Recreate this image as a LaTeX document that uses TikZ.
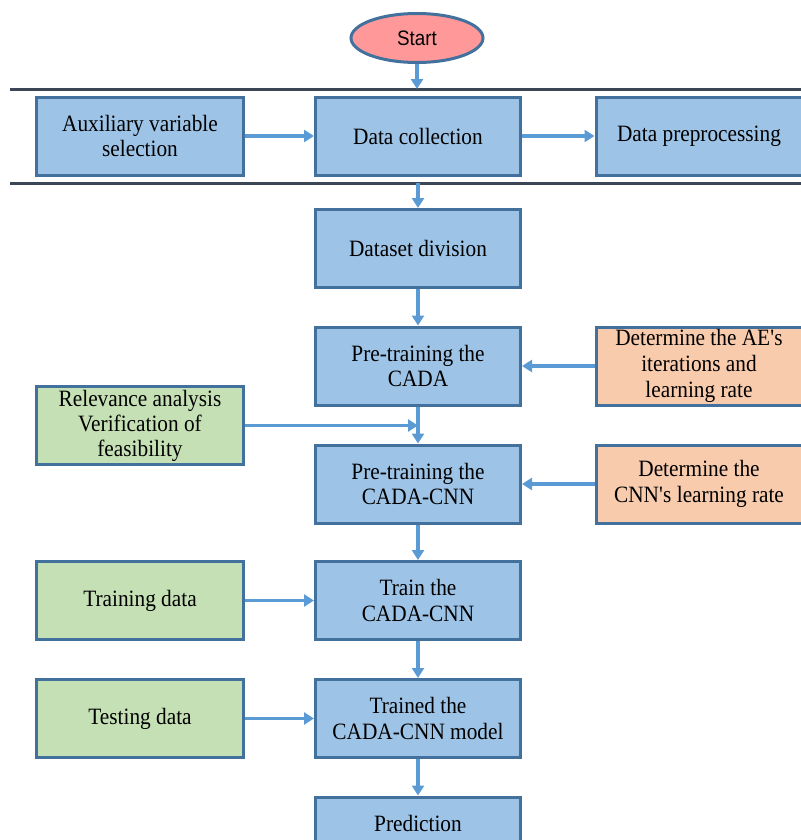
\documentclass[tikz,border=0pt]{standalone}
\usepackage{fontspec}
\setmainfont{Liberation Serif}[FakeStretch=0.91]
\setsansfont{Liberation Sans}[FakeStretch=0.9]
\usetikzlibrary{arrows.meta,shapes.geometric}
\definecolor{boxc}{HTML}{9DC3E6}
\definecolor{edgec}{HTML}{41719C}
\definecolor{greenc}{HTML}{C5E0B4}
\definecolor{orangec}{HTML}{F8CBAD}
\definecolor{startc}{HTML}{FF9999}
\definecolor{arc}{HTML}{5B9BD5}
\definecolor{linec}{HTML}{3B4656}
\tikzset{
  ar/.style={-{Triangle[length=10bp,width=12bp]},line width=3.2bp,arc},
  box/.style={draw=edgec,line width=3bp,fill=boxc,align=center,minimum width=205bp,minimum height=78bp,inner sep=2pt,font=\fontsize{23.5}{26}\selectfont},
  inbox/.style={box,fill=greenc,minimum width=206bp},
  parbox/.style={box,fill=orangec,minimum width=206bp},
  startnode/.style={ellipse,draw=edgec,line width=3bp,fill=startc,minimum width=132bp,minimum height=49bp,inner sep=0pt,font=\sffamily\fontsize{21}{24}\selectfont},
  sep/.style={line width=3bp,linec}
}

\begin{document}
\begin{tikzpicture}[x=1bp,y=-1bp]
\useasboundingbox (0,0) rectangle (801,840);
\coordinate (sepa) at (10,89);
\coordinate (sepaend) at (801,89);
\coordinate (sepb) at (10,183);
\coordinate (sepbend) at (801,183);
\draw[sep] (sepa) -- (sepaend);
\draw[sep] (sepb) -- (sepbend);

\node[startnode] (start) at (417,38) {Start};
\node[box,minimum width=206bp] (aux) at (140,136) {Auxiliary variable\\selection};
\node[box] (dc) at (418,136) {Data collection};
\node[box,minimum width=206bp] (dp) at (699,136) {Data preprocessing};
\node[box] (div) at (418,248.5) {Dataset division};
\node[box] (cada) at (418,366) {Pre-training the\\CADA};
\node[parbox] (ae) at (699,366) {Determine the AE\textquotesingle s\\iterations and\\learning rate};
\node[inbox,font=\fontsize{23.5}{25}\selectfont] (rel) at (140,425.5) {Relevance analysis\\Verification of\\feasibility};
\node[box] (cnn) at (418,484) {Pre-training the\\CADA-CNN};
\node[parbox] (cnnlr) at (699,484) {Determine the\\CNN\textquotesingle s learning rate};
\node[box] (train) at (418,600.5) {Train the\\CADA-CNN};
\node[inbox] (trdata) at (140,600.5) {Training data};
\node[box] (model) at (418,718.5) {Trained the\\CADA-CNN model};
\node[inbox] (tedata) at (140,718.5) {Testing data};
\node[box,minimum height=52bp] (pred) at (418,823) {Prediction};

\draw[ar] (start.south) -- (start.south |- sepa);
\draw[ar] (aux) -- (dc);
\draw[ar] (dc) -- (dp);
\draw[ar] (dc |- sepb) -- (div);
\draw[ar] (div) -- (cada);
\draw[ar] (ae) -- (cada);
\draw[ar] (cada) -- (cnn);
\draw[ar] (rel) -- (rel -| cada);
\draw[ar] (cnnlr) -- (cnn);
\draw[ar] (cnn) -- (train);
\draw[ar] (trdata) -- (train);
\draw[ar] (train) -- (model);
\draw[ar] (tedata) -- (model);
\draw[ar] (model) -- (pred);
\end{tikzpicture}
\end{document}
